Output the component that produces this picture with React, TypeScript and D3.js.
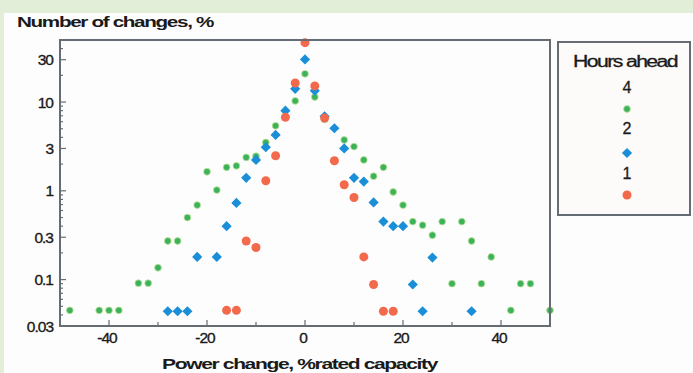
import React from 'react';
import * as d3 from 'd3';

// Hours ahead = 4 (green dots)
const greenX = [-48, -42, -40, -38, -34, -32, -30, -28, -26, -24, -22, -20, -18, -16, -14, -12, -10, -8, -6, -2, 0, 2, 4, 8, 10, 12, 14, 16, 18, 20, 22, 24, 26, 28, 30, 32, 34, 36, 38, 42, 44, 46, 50];
const greenY = [0.045, 0.045, 0.045, 0.045, 0.091, 0.091, 0.136, 0.272, 0.272, 0.5, 0.69, 1.64, 1.02, 1.84, 1.91, 2.38, 2.45, 3.5, 5.4, 10.3, 20.8, 11.4, 6.4, 3.74, 3.15, 2.23, 1.46, 1.84, 0.97, 0.69, 0.45, 0.41, 0.316, 0.45, 0.09, 0.45, 0.272, 0.09, 0.18, 0.045, 0.09, 0.09, 0.045];

// Hours ahead = 2 (blue diamonds)
const blueX = [-28, -26, -24, -22, -18, -16, -14, -12, -10, -8, -6, -4, -2, 0, 2, 4, 6, 8, 10, 12, 14, 16, 18, 20, 22, 24, 26, 34];
const blueY = [0.044, 0.044, 0.044, 0.18, 0.18, 0.4, 0.73, 1.4, 2.23, 3.1, 4.26, 8.0, 14.1, 30.2, 13.4, 6.9, 5.07, 3.0, 1.4, 1.27, 0.74, 0.45, 0.4, 0.4, 0.088, 0.044, 0.177, 0.044];

// Hours ahead = 1 (red blobs)
const redX = [-16, -14, -12, -10, -8, -6, -4, -2, 0, 2, 4, 6, 8, 10, 12, 14, 16, 18];
const redY = [0.045, 0.045, 0.272, 0.23, 1.3, 2.48, 6.75, 16.4, 46.7, 15.2, 6.6, 2.18, 1.17, 0.84, 0.18, 0.088, 0.044, 0.044];

const xTickLabels = [-40, -20, 0, 20, 40];
const yTickLabels = [0.03, 0.1, 0.3, 1, 3, 10, 30];
const legendLabels = ['4', '2', '1'];

const W = 693, H = 373;
const left = 60, right = 550, top = 40, bottom = 326;

const GREEN = '#3cb35b';
const BLUE = '#1a8fd8';
const RED = '#f26a4c';
const FRAME = '#656c73';
const INK = '#1a1a1a';

const font = '"Liberation Sans", Arial, Helvetica, sans-serif';

export default function App() {
  const x = d3.scaleLinear().domain([-50, 50]).range([left, right]);
  const y = d3.scaleLog().domain([0.03, 50]).range([bottom, top]);

  const xMinor = x.ticks(10).filter(t => !xTickLabels.includes(t) && t > -50 && t < 50);
  const yMinor = y.ticks().filter(t => !yTickLabels.some(v => Math.abs(v - t) < 1e-9));

  const diamond = d3.symbol().type(d3.symbolSquare).size(52)();

  const green = greenX.map((v, i) => ({ x: v, y: greenY[i] }));
  const blue = blueX.map((v, i) => ({ x: v, y: blueY[i] }));
  const red = redX.map((v, i) => ({ x: v, y: redY[i] }));

  const greenDot = (cx: number, cy: number, k: string) => (
    <circle key={k} cx={cx} cy={cy} r={3.4} fill={GREEN} stroke="#c4e39a" strokeWidth={0.8} />
  );
  const blueDiamond = (cx: number, cy: number, k: string) => (
    <path key={k} d={diamond} transform={`translate(${cx},${cy}) rotate(45)`} fill={BLUE} />
  );
  const redBlob = (cx: number, cy: number, k: string) => (
    <circle key={k} cx={cx} cy={cy} r={4.5} fill={RED} filter="url(#soft)" />
  );

  return (
    <svg width={W} height={H} style={{ position: 'absolute', left: 0, top: 0 }} fontFamily={font}>
      <defs>
        <filter id="soft" x="-50%" y="-50%" width="200%" height="200%">
          <feGaussianBlur stdDeviation="0.7" />
        </filter>
      </defs>
      <rect width={W} height={H} fill="#fdfdfe" />
      <rect width={W} height={13} fill="#e3eed8" />
      <rect width={4} height={H} fill="#e3eed8" />

      {/* y axis title */}
      <text x={17} y={27} fontSize={15.5} fontWeight="bold" fill={INK} letterSpacing={-1} textLength={196} lengthAdjust="spacingAndGlyphs">
        Number of changes, %
      </text>

      {/* ticks */}
      <g stroke={FRAME} strokeWidth={1.2}>
        {xTickLabels.map(t => (
          <line key={'xM' + t} x1={x(t)} x2={x(t)} y1={bottom} y2={bottom - 6} />
        ))}
        {xMinor.map(t => (
          <line key={'xm' + t} x1={x(t)} x2={x(t)} y1={bottom} y2={bottom - 4} />
        ))}
        {yTickLabels.map(t => (
          <line key={'yM' + t} x1={left} x2={left + 6} y1={y(t)} y2={y(t)} />
        ))}
        {yMinor.map(t => (
          <line key={'ym' + t} x1={left} x2={left + 3} y1={y(t)} y2={y(t)} />
        ))}
      </g>

      {/* tick labels */}
      <g fontSize={15.5} fill={INK} stroke={INK} strokeWidth={0.35} letterSpacing={-1}>
        {xTickLabels.map(t => (
          <text key={'xl' + t} x={x(t) - 2} y={343} textAnchor="middle">{String(t)}</text>
        ))}
        {yTickLabels.map(t => (
          <text key={'yl' + t} x={53} y={y(t) + 5.5} textAnchor="end">{String(t)}</text>
        ))}
      </g>

      {/* points: green, then blue, then red on top */}
      <g>{green.map((d, i) => greenDot(x(d.x), y(d.y), 'g' + i))}</g>
      <g>{blue.map((d, i) => blueDiamond(x(d.x), y(d.y), 'b' + i))}</g>
      <g>{red.map((d, i) => redBlob(x(d.x), y(d.y), 'r' + i))}</g>

      {/* plot frame */}
      <rect x={left} y={top} width={right - left} height={bottom - top} fill="none" stroke={FRAME} strokeWidth={2} />

      {/* x axis title */}
      <text x={162} y={369} fontSize={15.5} fontWeight="bold" fill={INK} letterSpacing={-1} textLength={275} lengthAdjust="spacingAndGlyphs">
        Power change, %rated capacity
      </text>

      {/* legend */}
      <rect x={558} y={42} width={132} height={173} fill="#fdfbfa" stroke={FRAME} strokeWidth={2} />
      <g fill={INK} stroke={INK} strokeWidth={0.3}>
        <text x={625} y={67} fontSize={16} textAnchor="middle" letterSpacing={-1.2} textLength={104} lengthAdjust="spacingAndGlyphs">
          Hours ahead
        </text>
        {legendLabels.map((l, i) => (
          <text key={'ll' + l} x={627} y={[93, 134, 179][i]} fontSize={16} textAnchor="middle">{l}</text>
        ))}
      </g>
      {greenDot(627, 109, 'lg')}
      {blueDiamond(627, 153, 'lb')}
      {redBlob(627, 195, 'lr')}
    </svg>
  );
}
